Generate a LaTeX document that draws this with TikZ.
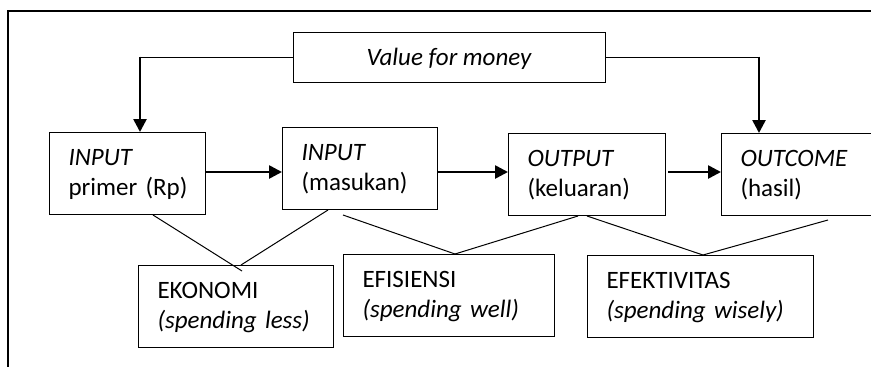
\documentclass[tikz,border=0pt]{standalone}
\usepackage{fontspec}
\setmainfont{Carlito}
\usetikzlibrary{arrows.meta,calc}
\newcommand\twoline[2]{\rule{0pt}{33pt}\mbox{#1}\\\mbox{#2}\rule[-19pt]{0pt}{19pt}}
\hbadness=10000 \hfuzz=20pt
\begin{document}
\begin{tikzpicture}[x=1pt,y=-1pt,
  box/.style={draw, line width=1pt, anchor=north west, inner xsep=19pt, inner ysep=0pt, align=left, font=\fontsize{25}{30}\selectfont},
  thinline/.style={line width=1pt},
  flow/.style={line width=2.6pt, -{Triangle[length=13pt,width=13pt]}},
]
\useasboundingbox (0,0) rectangle (871,367);
\clip (0,0) rectangle (871,367);
\draw[line width=1.8pt] (8,380) -- (8,11) -- (890,11);

\node[draw, line width=1pt, minimum width=312pt, minimum height=50pt, inner sep=0pt, text height=20pt, text depth=4pt, font=\fontsize{25}{30}\selectfont\itshape] (vfm) at (449,57) {Value for money};

\node[box, text width=118pt] (in1) at (49,132) {\twoline{\textit{INPUT}}{primer (Rp)}};
\node[box, text width=117pt] (in2) at (282,127) {\twoline{\textit{INPUT}}{(masukan)}};
\node[box, text width=119pt] (out) at (508,133) {\twoline{\textit{OUTPUT}}{(keluaran)}};
\node[box, text width=132pt] (outc) at (721,133) {\twoline{\textit{OUTCOME}}{(hasil)}};

\node[box, text width=157pt] (eko) at (138,265) {\twoline{EKONOMI}{\textit{(spending less)}}};
\node[box, text width=173pt] (efi) at (343,254) {\twoline{EFISIENSI}{\textit{(spending well)}}};
\node[box, text width=188pt] (efe) at (587,255) {\twoline{EFEKTIVITAS}{\textit{(spending wisely)}}};

\coordinate (ay) at (0,172);
\draw[flow] (in1.east |- ay) -- (in2.west |- ay);
\draw[flow] (in2.east |- ay) -- (out.west |- ay);
\draw[flow] ([xshift=2pt]out.east |- ay) -- (outc.west |- ay);

\coordinate (c1) at (140,57);
\coordinate (c2) at (759,57);
\draw[thinline] (vfm.west) -- (c1);
\draw[flow] ([yshift=0.5pt]c1) -- (c1 |- in1.north);
\draw[thinline] (vfm.east) -- (c2);
\draw[flow] ([yshift=0.5pt]c2) -- (c2 |- outc.north);

\draw[thinline] ([xshift=104pt]in1.south west) -- ([xshift=104pt,yshift=-6pt]eko.north west);
\draw[thinline] ([xshift=46pt]in2.south west) -- ([xshift=103pt]eko.north west);
\draw[thinline] ([xshift=61pt,yshift=-5pt]in2.south west) -- ([xshift=112pt]efi.north west);
\draw[thinline] ([xshift=70pt]out.south west) -- ([xshift=112pt]efi.north west);
\draw[thinline] ([xshift=79pt]out.south west) -- ([xshift=116pt]efe.north west);
\draw[thinline] ([xshift=107pt,yshift=-4pt]outc.south west) -- ([xshift=116pt]efe.north west);
\end{tikzpicture}
\end{document}
